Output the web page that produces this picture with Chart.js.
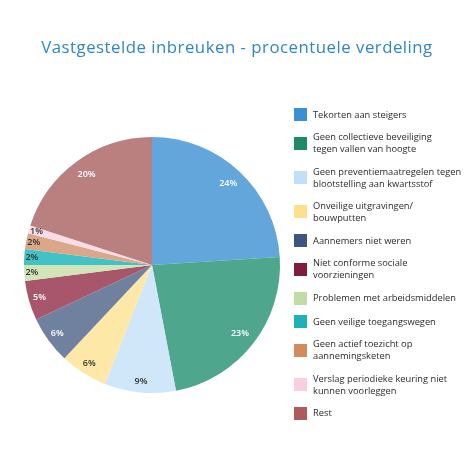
<!DOCTYPE html>
<html>
<head>
<meta charset="utf-8">
<script src="https://cdn.jsdelivr.net/npm/chart.js@4/dist/chart.umd.min.js"></script>
<style>
  html, body { margin: 0; padding: 0; background: #fff; }
  #wrap { position: relative; width: 474px; height: 474px; overflow: hidden; }
  #wrap canvas { position: absolute; left: 0; top: 0; }
  h1 {
    position: absolute; left: 0; top: 36px; width: 474px; margin: 0;
    text-align: center; font: 400 16.8px "Open Sans", sans-serif;
    letter-spacing: 0.5px;
    color: #2f86c6; line-height: 22px;
  }
  #legend {
    position: absolute; left: 294px; top: 108px; width: 180px;
    list-style: none; margin: 0; padding: 0;
    font: 400 9.3px "Open Sans", sans-serif; color: #2a2a2a; line-height: 12px;
  }
  #legend li { display: flex; align-items: center; margin-bottom: 10.3px; }
  #legend .box { flex: 0 0 13px; height: 13px; margin-right: 6px; }
</style>
</head>
<body>
<div id="wrap">
  <canvas id="chart" width="474" height="474"></canvas>
  <h1 id="title"></h1>
  <ul id="legend"></ul>
</div>
<script>
const title = 'Vastgestelde inbreuken - procentuele verdeling'

const categories = [
  ['Tekorten aan steigers'],
  ['Geen collectieve beveiliging', 'tegen vallen van hoogte'],
  ['Geen preventiemaatregelen tegen', 'blootstelling aan kwartsstof'],
  ['Onveilige uitgravingen/', 'bouwputten'],
  ['Aannemers niet weren'],
  ['Niet conforme sociale', 'voorzieningen'],
  ['Problemen met arbeidsmiddelen'],
  ['Geen veilige toegangswegen'],
  ['Geen actief toezicht op', 'aannemingsketen'],
  ['Verslag periodieke keuring niet', 'kunnen voorleggen'],
  ['Rest'],
]

const percentages = [24, 23, 9, 6, 6, 5, 2, 2, 2, 1, 20]

// slice fills in the pie are softer than the legend swatches
const sliceColors = [
  '#62a6dc', '#4ea68c', '#cfe7f8', '#fde8a8', '#7081a0', '#a8566c',
  '#d2e5b8', '#40c2c6', '#daa888', '#f8dce8', '#ba8080',
]
const swatchColors = [
  '#3b8fd5', '#1e8a68', '#bfe0f6', '#fde08c', '#3e5584', '#7e1d3c',
  '#c3dba4', '#1cb2b8', '#d38b5c', '#f8cfe0', '#ae5b5d',
]
const labelColors = [
  '#ffffff', '#ffffff', '#333333', '#333333', '#ffffff', '#ffffff',
  '#333333', '#333333', '#333333', '#333333', '#ffffff',
]

document.getElementById('title').textContent = title

const legend = document.getElementById('legend')
categories.forEach((lines, i) => {
  const li = document.createElement('li')
  const box = document.createElement('span')
  box.className = 'box'
  box.style.background = swatchColors[i]
  const text = document.createElement('span')
  text.innerHTML = lines.map((l) => l.replace(/&/g, '&amp;').replace(/</g, '&lt;')).join('<br>')
  li.append(box, text)
  legend.appendChild(li)
})

const percentLabels = {
  id: 'percentLabels',
  afterDatasetsDraw(chart) {
    const { ctx } = chart
    const meta = chart.getDatasetMeta(0)
    ctx.save()
    ctx.font = '600 9px "Open Sans", sans-serif'
    ctx.textAlign = 'center'
    ctx.textBaseline = 'middle'
    meta.data.forEach((arc, i) => {
      const v = percentages[i]
      const { x, y, startAngle, endAngle, outerRadius } = arc.getProps(
        ['x', 'y', 'startAngle', 'endAngle', 'outerRadius'], true)
      const mid = (startAngle + endAngle) / 2
      const k = v >= 15 ? 0.87 : v >= 5 ? 0.915 : 0.94
      ctx.fillStyle = labelColors[i]
      ctx.fillText(v + '%', x + Math.cos(mid) * outerRadius * k, y + Math.sin(mid) * outerRadius * k)
    })
    ctx.restore()
  },
}

new Chart(document.getElementById('chart'), {
  type: 'pie',
  data: {
    labels: categories.map((l) => l.join(' ')),
    datasets: [
      {
        data: percentages,
        backgroundColor: sliceColors,
        borderWidth: 0,
      },
    ],
  },
  options: {
    responsive: false,
    animation: false,
    layout: { padding: { left: 24, right: 194, top: 137, bottom: 81 } },
    plugins: {
      legend: { display: false },
      tooltip: { enabled: false },
    },
  },
  plugins: [percentLabels],
})
</script>
</body>
</html>
